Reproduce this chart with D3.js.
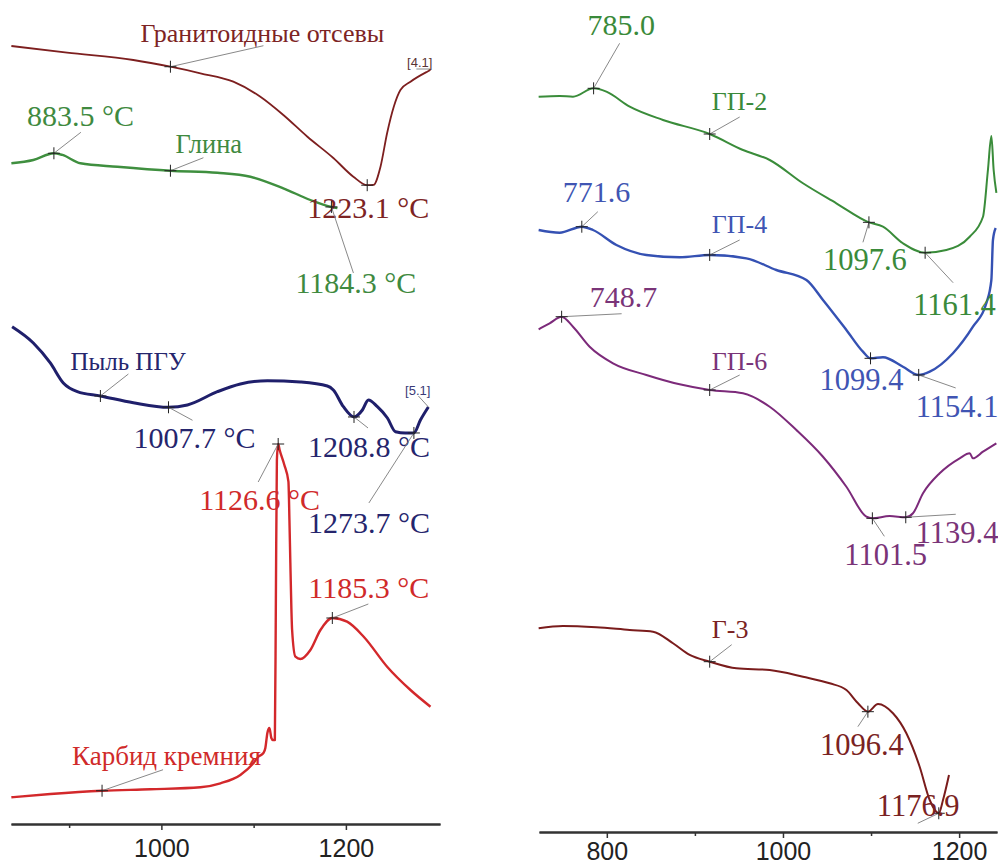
<!DOCTYPE html>
<html>
<head>
<meta charset="utf-8">
<script src="https://cdn.jsdelivr.net/npm/d3@7"></script>
<style>
body { margin: 0; background: #fff; }
svg { display: block; }
</style>
</head>
<body>
<div id="chart"></div>
<script>
// DTA curves: temperature, °C and signal (arbitrary units)

// left panel
var granitT = [837.4, 897.8, 969.6, 1009.8, 1042.3, 1078, 1107.3, 1132.2, 1158.3, 1186.4, 1208.1, 1223.1, 1229.9, 1237.5, 1244.7, 1251.9, 1259.1, 1270, 1288.1, 1291.6];
var granitV = [98.0, 97.16, 96.25, 95.41, 94.59, 93.54, 91.66, 89.38, 86.66, 84.0, 81.66, 80.6, 80.63, 82.91, 87.13, 90.41, 92.5, 93.54, 94.79, 95.0];

var glinaT = [837.4, 861.2, 883.5, 892.7, 912.2, 952.3, 1009.8, 1060.7, 1096.5, 1132.2, 1161.5, 1184.3, 1190.8];
var glinaV = [83.34, 83.75, 84.59, 84.38, 83.34, 82.91, 82.41, 82.16, 81.66, 80.21, 78.75, 77.88, 77.75];

var pylT = [838.2, 861.2, 879.6, 893.7, 908.9, 933.9, 969.6, 1007.7, 1028.2, 1060.7, 1085.6, 1114.9, 1150.7, 1179.9, 1186.4, 1197.3, 1208.8, 1217.9, 1224.4, 1234.1, 1245, 1253.7, 1264.5, 1273.7, 1280.8, 1289.4];
var pylV = [62.91, 60.88, 58.38, 55.88, 54.79, 54.25, 53.41, 52.84, 53.13, 54.79, 55.75, 56.16, 56.0, 55.5, 55.0, 52.91, 51.63, 52.5, 53.75, 52.91, 51.5, 49.79, 49.63, 49.63, 51.25, 52.88];

var carbT = [837.4, 879.7, 935.7, 988.1, 1042.3, 1064, 1085.6, 1099.7, 1105.1, 1110.6, 1112.7, 1114.9, 1117.1, 1119.2, 1120.9, 1123, 1124.1, 1125.2, 1126.6, 1128.2, 1133.3, 1137.7, 1138.8, 1139.8, 1141.7, 1145.3, 1150.7, 1161.5, 1172.4, 1185.3, 1201.3, 1219.3, 1244.7, 1270, 1291.7];
var carbV = [4.09, 4.5, 4.91, 5.09, 5.34, 5.84, 6.88, 8.34, 9.16, 9.63, 10.25, 12.13, 12.75, 11.5, 11.25, 11.25, 28.75, 46.25, 48.25, 47.5, 45.63, 43.54, 38.75, 33.38, 25.0, 21.66, 21.38, 22.5, 25.0, 26.5, 26.04, 24.16, 20.41, 17.5, 15.41];

// right panel
var gp2T = [722.6, 746.4, 761.6, 785.0, 799.5, 826, 863.8, 916.8, 954.6, 984.9, 1022.7, 1060.6, 1097.6, 1113.5, 1136.2, 1161.4, 1185.5, 1212, 1227.1, 1232.7, 1236.6, 1239.2, 1242.3];
var gp2V = [91.66, 91.75, 91.66, 92.71, 92.29, 90.41, 88.75, 87.0, 85.0, 83.75, 80.84, 78.34, 75.96, 75.41, 73.34, 72.16, 72.5, 74.16, 76.66, 82.5, 86.75, 82.5, 79.63];

var gp4T = [722.6, 746.4, 771.6, 784.3, 810.9, 844.9, 882.7, 916.8, 958.4, 992.5, 1026.6, 1045.4, 1072, 1090.8, 1099.4, 1113.5, 1136.2, 1154.1, 1166.6, 1193, 1215.7, 1230.9, 1236.6, 1238.4, 1241.5];
var gp4V = [75.0, 74.66, 75.41, 75.0, 73.13, 71.88, 71.59, 71.88, 71.46, 70.0, 68.75, 66.25, 62.5, 59.79, 58.96, 59.09, 57.91, 56.88, 57.29, 59.59, 62.91, 65.84, 68.75, 73.75, 75.25];

var gp6T = [722.6, 735.1, 748.7, 761.6, 780.5, 807, 844.9, 882.7, 916.8, 954.6, 984.9, 1015.2, 1045.4, 1072, 1094.7, 1101.5, 1121.1, 1139.4, 1147.6, 1159, 1177.9, 1200.6, 1212, 1215.7, 1227.1, 1242.3];
var gp6V = [62.59, 63.34, 64.16, 62.91, 60.41, 58.34, 56.88, 55.71, 55.0, 54.59, 52.91, 50.0, 46.66, 42.91, 39.16, 38.96, 39.25, 39.09, 39.59, 42.09, 44.59, 46.46, 47.09, 46.46, 47.29, 48.34];

var g3T = [722.6, 750.2, 788.1, 826, 852.4, 875.1, 894.1, 916.8, 947.1, 984.9, 1022.7, 1053, 1072, 1085.2, 1096.4, 1107.9, 1124.9, 1140.1, 1155.2, 1166.6, 1176.9, 1181.7, 1188.5];
var g3V = [25.21, 25.5, 25.34, 25.0, 24.79, 23.34, 21.88, 21.04, 20.21, 20.0, 19.16, 18.34, 17.5, 15.84, 14.79, 15.75, 14.59, 12.09, 7.91, 3.75, 2.09, 3.75, 6.88];

// axes
var leftDomain = [837, 1302];
var rightDomain = [723, 1243];
var leftTicks = [1000, 1200];
var rightTicks = [800, 1000, 1200];
var minorTicks = [900, 1100];

// marked points: series, temperature, label
var leftMarks = [
    ["granit", 1009.8, "Гранитоидные отсевы"],
    ["granit", 1223.1, "1223.1 °C"],
    ["glina", 883.5, "883.5 °C"],
    ["glina", 1009.8, "Глина"],
    ["glina", 1184.3, "1184.3 °C"],
    ["pyl", 933.9, "Пыль ПГУ"],
    ["pyl", 1007.7, "1007.7 °C"],
    ["pyl", 1208.8, "1208.8 °C"],
    ["pyl", 1273.7, "1273.7 °C"],
    ["carb", 1126.6, "1126.6 °C"],
    ["carb", 1185.3, "1185.3 °C"],
    ["carb", 935.7, "Карбид кремния"]
];
var rightMarks = [
    ["gp2", 785.0, "785.0"],
    ["gp2", 916.8, "ГП-2"],
    ["gp2", 1097.6, "1097.6"],
    ["gp2", 1161.4, "1161.4"],
    ["gp4", 771.6, "771.6"],
    ["gp4", 916.8, "ГП-4"],
    ["gp4", 1099.4, "1099.4"],
    ["gp4", 1154.1, "1154.1"],
    ["gp6", 748.7, "748.7"],
    ["gp6", 916.8, "ГП-6"],
    ["gp6", 1101.5, "1101.5"],
    ["gp6", 1139.4, "1139.4"],
    ["g3", 916.8, "Г-3"],
    ["g3", 1096.4, "1096.4"],
    ["g3", 1176.9, "1176.9"]
];
// curve-end tags
var endTags = [["granit", "[4.1]"], ["pyl", "[5.1]"]];

// ---- layout ----
var width = 998, height = 866;
var serif = "'Liberation Serif', 'Times New Roman', serif";
var sans = "'Liberation Sans', Arial, sans-serif";

var series = {
    granit: {T: granitT, V: granitV, color: "#7d1f1f", text: "#7d2424", w: 1.8, side: "L"},
    glina:  {T: glinaT,  V: glinaV,  color: "#3f8f3f", text: "#3f8a3f", w: 2.4, side: "L"},
    pyl:    {T: pylT,    V: pylV,    color: "#1f1f6b", text: "#25256d", w: 3,   side: "L"},
    carb:   {T: carbT,   V: carbV,   color: "#d3282b", text: "#d02a2a", w: 2.4, side: "L"},
    gp2:    {T: gp2T,    V: gp2V,    color: "#3a8c3a", text: "#3a8a3a", w: 2,   side: "R"},
    gp4:    {T: gp4T,    V: gp4V,    color: "#3551b3", text: "#4055b3", w: 2.4, side: "R"},
    gp6:    {T: gp6T,    V: gp6V,    color: "#7c2a7a", text: "#7a3478", w: 2,   side: "R"},
    g3:     {T: g3T,     V: g3V,     color: "#7a1c1c", text: "#7a2222", w: 2,   side: "R"}
};

// label offsets from the marker: [text dx, text dy, leader dx, leader dy, font size]
var labelPos = {
    "Гранитоидные отсевы": [-30, -25, 93, -21, 26],
    "1223.1 °C": [-60, 33, 0, 0, 30],
    "883.5 °C": [-27, -27, 27, -21, 30],
    "Глина": [5, -18, 33, -13, 26.5],
    "1184.3 °C": [-36, 86, 22, 66, 30],
    "Пыль ПГУ": [-30, -26, 28, -22, 25],
    "1007.7 °C": [-35, 41, 24, 13, 30],
    "1208.8 °C": [-46, 40, 14, 11, 30],
    "1273.7 °C": [-106, 100, -45, 70, 30],
    "1126.6 °C": [-79, 66, -20, 38, 30],
    "1185.3 °C": [-24, -20, 36, -14, 30],
    "Карбид кремния": [-30, -26, 61, -21, 27],
    "785.0": [-6, -53, 26, -45, 30],
    "ГП-2": [2, -24, 30, -17, 26],
    "1097.6": [-46, 48, -6, 20, 30.5],
    "1161.4": [-12, 62, 28, 30, 30.5],
    "771.6": [-19, -25, 16, -15, 30],
    "ГП-4": [2, -22, 30, -15, 26],
    "1099.4": [-51, 32, 0, 0, 30.5],
    "1154.1": [-3, 42, 37, 13, 30.5],
    "748.7": [28, -10, 60, -3, 30],
    "ГП-6": [2, -20, 30, -15, 26],
    "1101.5": [-28, 47, 12, 18, 30.5],
    "1139.4": [10, 26, 50, -3, 30.5],
    "Г-3": [2, -24, 22, -17, 26],
    "1096.4": [-48, 43, -10, 15, 30.5],
    "1176.9": [-62, 3, -21, 10, 30.5]
};

var xL = d3.scaleLinear().domain(leftDomain).range([11, 440]);
var xR = d3.scaleLinear().domain(rightDomain).range([539, 997]);
var y = d3.scaleLinear().domain([0, 100]).range([830, 30]);

var svg = d3.select("#chart")
            .append("svg")
            .attr("width", width)
            .attr("height", height);

function xOf(s) { return series[s].side == "L" ? xL : xR; }

function valueAt(T, V, t) {
    var i = d3.bisectLeft(T, t);
    if (i <= 0) return V[0];
    if (i >= T.length) return V[V.length - 1];
    var a = (t - T[i - 1]) / (T[i] - T[i - 1]);
    return V[i - 1] + a * (V[i] - V[i - 1]);
}

// curves
Object.keys(series).forEach(function(k) {
    var s = series[k];
    var x = xOf(k);
    var line = d3.line()
        .x(function(d) { return x(d[0]); })
        .y(function(d) { return y(d[1]); })
        .curve(d3.curveMonotoneX);
    svg.append("path")
        .datum(d3.zip(s.T, s.V))
        .attr("d", line)
        .attr("fill", "none")
        .attr("stroke", s.color)
        .attr("stroke-width", s.w)
        .attr("stroke-linejoin", "round");
});

// markers, leaders, labels
var marks = leftMarks.concat(rightMarks);
var g = svg.append("g");
marks.forEach(function(m) {
    var s = series[m[0]];
    var px = xOf(m[0])(m[1]);
    var py = y(valueAt(s.T, s.V, m[1]));
    var p = labelPos[m[2]];
    if (p[2] || p[3]) {
        g.append("line")
            .attr("x1", px).attr("y1", py)
            .attr("x2", px + p[2]).attr("y2", py + p[3])
            .attr("stroke", "#7a7a7a").attr("stroke-width", 0.9);
    }
    g.append("line")
        .attr("x1", px - 6).attr("x2", px + 6)
        .attr("y1", py).attr("y2", py)
        .attr("stroke", "#222").attr("stroke-width", 1);
    g.append("line")
        .attr("x1", px).attr("x2", px)
        .attr("y1", py - 6).attr("y2", py + 6)
        .attr("stroke", "#222").attr("stroke-width", 1);
    g.append("text")
        .attr("x", px + p[0])
        .attr("y", py + p[1])
        .attr("fill", s.text)
        .attr("font-family", serif)
        .attr("font-size", p[4])
        .text(m[2]);
});

// end tags like [4.1]
endTags.forEach(function(t) {
    var s = series[t[0]];
    var n = s.T.length - 1;
    var px = xOf(t[0])(s.T[n]), py = y(s.V[n]);
    var flat = t[0] == "granit";
    g.append("line")
        .attr("x1", px).attr("y1", flat ? py - 1 : py)
        .attr("x2", flat ? px - 14 : px - 10).attr("y2", flat ? py - 1 : py - 11)
        .attr("stroke", "#7a7a7a").attr("stroke-width", 0.9);
    g.append("text")
        .attr("x", px + 2)
        .attr("y", flat ? py - 3 : py - 12)
        .attr("text-anchor", "end")
        .attr("fill", flat ? "#5a3434" : "#3a3a78")
        .attr("font-family", sans)
        .attr("font-size", 13)
        .text(t[1]);
});

// axes
function drawAxis(x, yPos, major, base) {
    svg.append("g").attr("transform", "translate(0," + yPos + ")")
        .call(d3.axisBottom(x).tickValues(minorTicks).tickSize(4).tickSizeOuter(0).tickFormat(""));
    var mj = svg.append("g").attr("transform", "translate(0," + yPos + ")")
        .call(d3.axisBottom(x).tickValues(major).tickSize(6).tickSizeOuter(0).tickFormat(d3.format("d")));
    svg.selectAll(".domain").attr("stroke", "#333").attr("stroke-width", 2);
    svg.selectAll(".tick line").attr("stroke", "#333").attr("stroke-width", 1.5);
    mj.selectAll("text")
        .attr("dy", null)
        .attr("y", base)
        .attr("fill", "#222")
        .attr("font-family", sans)
        .attr("font-size", 25);
}
drawAxis(xL, 824, leftTicks, 33);
drawAxis(xR, 832, rightTicks, 28);
</script>
</body>
</html>
